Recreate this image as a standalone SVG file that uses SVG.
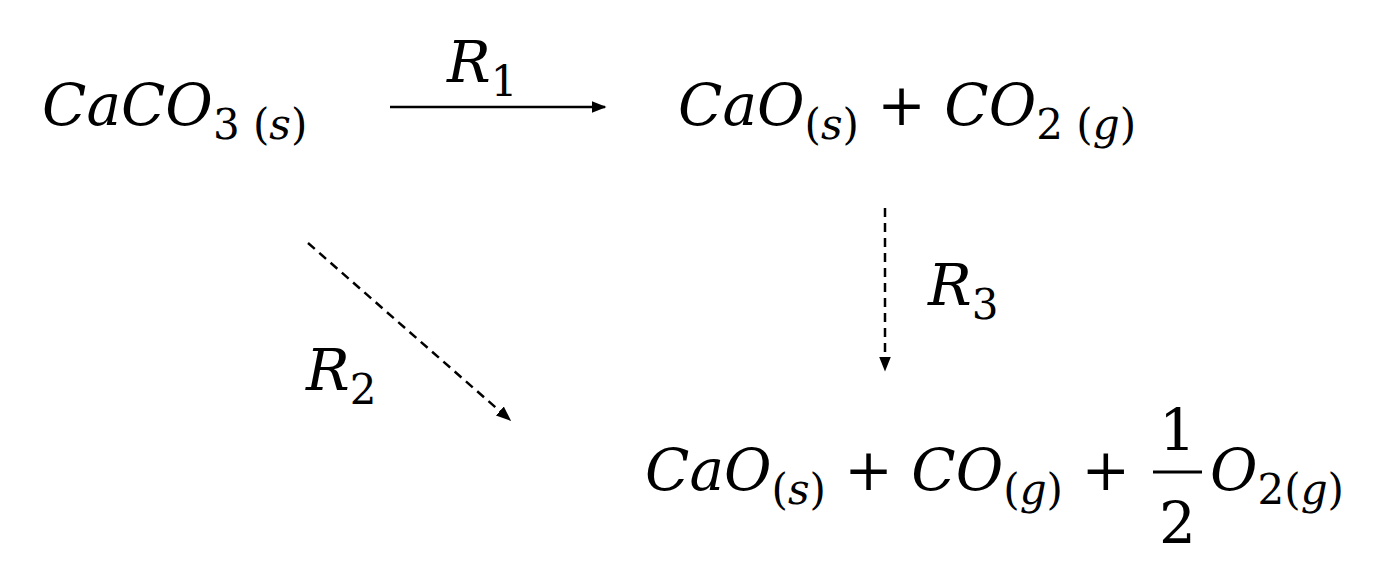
<svg xmlns="http://www.w3.org/2000/svg" width="1388" height="576" viewBox="0 0 1388 576">
<style>
text{font-family:"DejaVu Serif","Liberation Serif",serif;font-size:58px;fill:#000}
.i{font-style:italic}
.s{font-size:42px}
.c{stroke:#000;stroke-width:2.5;fill:none}
.d{stroke-dasharray:9 6}
</style>
<defs><marker id="a" viewBox="0 0 10 10" refX="9" refY="5" markerWidth="6" markerHeight="6" orient="auto"><path d="M0,1 L10,5 L0,9 z" fill="#000"/></marker></defs>
<rect width="1388" height="576" fill="#fff"/>
<g id="reactant"><text x="42" y="125" class="i">CaCO<tspan class="s" font-style="normal" dy="14">3 (</tspan><tspan class="s">s</tspan><tspan class="s" font-style="normal">)</tspan></text></g>
<g id="products1"><text x="678" y="125"><tspan class="i">CaO</tspan><tspan class="s" dy="14">(</tspan><tspan class="s i">s</tspan><tspan class="s">)</tspan><tspan dy="-14"> + </tspan><tspan class="i">CO</tspan><tspan class="s" dy="14">2 (</tspan><tspan class="s i">g</tspan><tspan class="s">)</tspan></text></g>
<g id="products2"><text x="645" y="490"><tspan class="i">CaO</tspan><tspan class="s" dy="14">(</tspan><tspan class="s i">s</tspan><tspan class="s">)</tspan><tspan dy="-14"> + </tspan><tspan class="i">CO</tspan><tspan class="s" dy="14">(</tspan><tspan class="s i">g</tspan><tspan class="s">)</tspan><tspan dy="-14"> +</tspan></text>
<text x="1159" y="450" font-size="56">1</text><line x1="1153" y1="472" x2="1202" y2="472" stroke="#000" stroke-width="3"/><text x="1159" y="543" font-size="56">2</text>
<text x="1210" y="490"><tspan class="i">O</tspan><tspan class="s" dy="14">2(</tspan><tspan class="s i">g</tspan><tspan class="s">)</tspan></text></g>
<g id="connectors">
<line class="c" x1="390" y1="107" x2="605" y2="107" marker-end="url(#a)"/>
<line class="c d" x1="885" y1="208" x2="885" y2="370" marker-end="url(#a)"/>
<line class="c d" x1="308" y1="243" x2="510" y2="420" marker-end="url(#a)"/>
<text x="447" y="82" class="i">R<tspan class="s" font-style="normal" dy="14">1</tspan></text>
<text x="928" y="305" class="i">R<tspan class="s" font-style="normal" dy="14">3</tspan></text>
<text x="306" y="390" class="i">R<tspan class="s" font-style="normal" dy="14">2</tspan></text>
</g>
</svg>
